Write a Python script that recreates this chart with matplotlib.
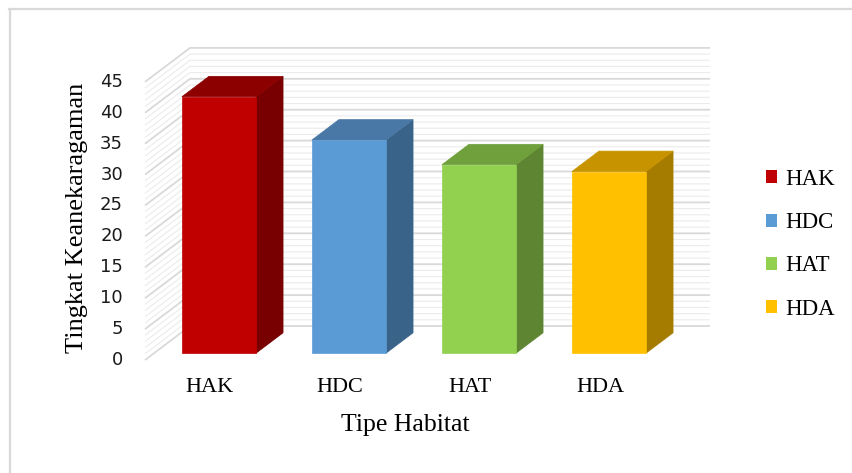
import numpy as np
import matplotlib.pyplot as plt
from matplotlib.patches import Polygon, Patch
from matplotlib.lines import Line2D

# data
habitat = ['HAK', 'HDC', 'HAT', 'HDA']
nilai = [41.5, 34.5, 30.5, 29.4]
warna_depan = ['#c00000', '#5b9bd5', '#92d050', '#ffc000']
warna_atas = ['#8c0000', '#4a78a6', '#70a03c', '#c79400']
warna_sisi = ['#780000', '#3a6389', '#5e8632', '#a67c00']
yticks = [0, 5, 10, 15, 20, 25, 30, 35, 40, 45]

# oblique 3d look: depth d in [0,1] shifts x by kx (categories) and y by ky (values)
kx = 45 / 130.0
ky = 5.5
sx = 130.0   # px per category
sy = 6.18    # px per value unit

def P(c, v, d):
    return (c + d * kx, v + d * ky)

fig = plt.figure(figsize=(8.53, 4.73), dpi=100)
ax = fig.add_axes([0, 0, 1, 1])
ax.set_xlim(-145 / sx, (853 - 145) / sx)
ax.set_ylim(-(473 - 360) / sy, 360 / sy)
ax.axis('off')

# walls with gridlines
for major in [False, True]:
    for v in range(0, 46):
        if (v % 5 == 0) != major:
            continue
        col = '#d9d9d9' if major else '#ebebeb'
        lw = 1.3 if major else 0.8
        x0, y0 = P(0, v, 0)
        x1, y1 = P(0, v, 1)
        x2, y2 = P(4, v, 1)
        ax.plot([x0, x1, x2], [y0, y1, y2], color=col, lw=lw, zorder=1 + major,
                solid_capstyle='butt')

# bars
w = 0.285
for i, val in enumerate(nilai):
    c0 = i + 0.5 - w
    c1 = i + 0.5 + w
    d0, d1 = 0.2, 0.8
    front = [P(c0, 0, d0), P(c1, 0, d0), P(c1, val, d0), P(c0, val, d0)]
    top = [P(c0, val, d0), P(c1, val, d0), P(c1, val, d1), P(c0, val, d1)]
    side = [P(c1, 0, d0), P(c1, 0, d1), P(c1, val, d1), P(c1, val, d0)]
    ax.add_patch(Polygon(side, closed=True, fc=warna_sisi[i], ec=warna_sisi[i], lw=0.5, zorder=5))
    ax.add_patch(Polygon(top, closed=True, fc=warna_atas[i], ec=warna_atas[i], lw=0.5, zorder=5))
    ax.add_patch(Polygon(front, closed=True, fc=warna_depan[i], ec=warna_depan[i], lw=0.5, zorder=6))

# tick labels
for t in yticks:
    ax.text(-22 / sx, t, str(t), ha='right', va='center', fontsize=13,
            family='DejaVu Sans', color='#1a1a1a')

for i, h in enumerate(habitat):
    ax.text(i + 0.5, -27 / sy, h, ha='center', va='center', fontsize=16,
            family='Liberation Serif')

ax.text(2.0, -65 / sy, 'Tipe Habitat', ha='center', va='center', fontsize=18.5,
        family='Liberation Serif')
ax.text(-68 / sx, 142 / sy, 'Tingkat Keanekaragaman', ha='center', va='center',
        rotation=90, fontsize=19, family='Liberation Serif')

# legend
handles = [Patch(facecolor=c, edgecolor='none') for c in warna_depan]
leg = fig.legend(handles, habitat, loc='upper left', bbox_to_anchor=(766 / 853, 1 - 169 / 473),
                 frameon=False, prop={'family': 'Liberation Serif', 'size': 16.5},
                 handlelength=0.5, handleheight=0.5, handletextpad=0.35,
                 labelspacing=0.97, borderpad=0, borderaxespad=0)

# chart border (top and left visible)
fig.add_artist(Line2D([9.5 / 853, 9.5 / 853], [0, 1 - 9 / 473], color='#d9d9d9', lw=1.6))
fig.add_artist(Line2D([9 / 853, 1], [1 - 9.5 / 473, 1 - 9.5 / 473], color='#d9d9d9', lw=1.6))

plt.savefig('out.png', dpi=100)
